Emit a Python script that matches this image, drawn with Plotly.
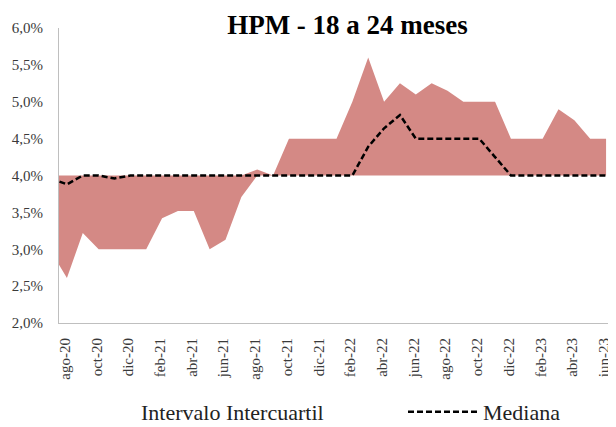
import plotly.graph_objects as go

months = ["jul-20", "ago-20", "sep-20", "oct-20", "nov-20", "dic-20",
          "ene-21", "feb-21", "mar-21", "abr-21", "may-21", "jun-21",
          "jul-21", "ago-21", "sep-21", "oct-21", "nov-21", "dic-21",
          "ene-22", "feb-22", "mar-22", "abr-22", "may-22", "jun-22",
          "jul-22", "ago-22", "sep-22", "oct-22", "nov-22", "dic-22",
          "ene-23", "feb-23", "mar-23", "abr-23", "may-23", "jun-23"]

q_low = [2.97, 2.61, 3.22, 3.00, 3.00, 3.00,
         3.00, 3.42, 3.52, 3.52, 3.00, 3.13,
         3.71, 4.00, 4.00, 4.00, 4.00, 4.00,
         4.00, 4.00, 4.00, 4.00, 4.00, 4.00,
         4.00, 4.00, 4.00, 4.00, 4.00, 4.00,
         4.00, 4.00, 4.00, 4.00, 4.00, 4.00]

q_high = [4.00, 4.00, 4.00, 4.00, 4.00, 4.00,
          4.00, 4.00, 4.00, 4.00, 4.00, 4.00,
          4.00, 4.08, 4.00, 4.50, 4.50, 4.50,
          4.50, 5.00, 5.60, 5.00, 5.25, 5.10,
          5.25, 5.15, 5.00, 5.00, 5.00, 4.50,
          4.50, 4.50, 4.90, 4.75, 4.50, 4.50]

mediana = [3.96, 3.88, 4.00, 4.00, 3.96, 4.00,
           4.00, 4.00, 4.00, 4.00, 4.00, 4.00,
           4.00, 4.00, 4.00, 4.00, 4.00, 4.00,
           4.00, 4.00, 4.39, 4.64, 4.82, 4.50,
           4.50, 4.50, 4.50, 4.50, 4.25, 4.00,
           4.00, 4.00, 4.00, 4.00, 4.00, 4.00]

tick_labels = ["ago-20", "oct-20", "dic-20", "feb-21", "abr-21", "jun-21",
               "ago-21", "oct-21", "dic-21", "feb-22", "abr-22", "jun-22",
               "ago-22", "oct-22", "dic-22", "feb-23", "abr-23", "jun-23"]

y_ticks = [2.0, 2.5, 3.0, 3.5, 4.0, 4.5, 5.0, 5.5, 6.0]
y_tick_text = ["2,0%", "2,5%", "3,0%", "3,5%", "4,0%", "4,5%", "5,0%", "5,5%", "6,0%"]

FONT = "Liberation Serif, Times New Roman, serif"
FILL = "rgb(212,137,133)"
AXIS = "#BFBFBF"
TXT = "#3a3a3a"

# The page body has an 8px margin, so the figure is sized to fit the window.
W, H = 608, 419

fig = go.Figure()
fig.add_trace(go.Scatter(x=months, y=q_low, mode="lines",
                         line=dict(width=0, color=FILL),
                         showlegend=False, hoverinfo="skip"))
fig.add_trace(go.Scatter(x=months, y=q_high, mode="lines",
                         line=dict(width=0, color=FILL),
                         fill="tonexty", fillcolor=FILL,
                         showlegend=False))
# legend entry for the interquartile range (no visible swatch, as in the original)
fig.add_trace(go.Scatter(x=[None], y=[None], mode="lines",
                         line=dict(width=0, color="rgba(0,0,0,0)"),
                         name="Intervalo Intercuartil", legend="legend"))
fig.add_trace(go.Scatter(x=months, y=mediana, mode="lines",
                         line=dict(color="black", width=2.5, dash="6px,3px"),
                         name="Mediana", legend="legend2"))

legend_common = dict(orientation="h", xanchor="left", yanchor="middle",
                     y=-89 / 295, itemwidth=70,
                     font=dict(family=FONT, size=22, color="#222222"),
                     bgcolor="rgba(0,0,0,0)")

fig.update_layout(
    width=W, height=H,
    margin=dict(l=51, r=2, t=20, b=104, autoexpand=False),
    paper_bgcolor="white", plot_bgcolor="white",
    font=dict(family=FONT, color=TXT, size=15),
    title=dict(text="HPM - 18 a 24 meses", x=339.5 / W, xanchor="center",
               xref="container", y=1 - 17 / H, yref="container", yanchor="middle",
               font=dict(family=FONT, size=27, color="black", weight="bold")),
    xaxis=dict(type="category", range=[0.5, 35.5], automargin=False,
               tickmode="array", tickvals=tick_labels, ticktext=tick_labels,
               tickangle=-90, showgrid=False, zeroline=False,
               showline=True, linecolor=AXIS, linewidth=1, ticks="",
               ticklabelstandoff=8, ticklabelshift=-2,
               tickfont=dict(family=FONT, size=15, color=TXT)),
    yaxis=dict(range=[2, 6], automargin=False,
               tickmode="array", tickvals=y_ticks, ticktext=y_tick_text,
               showgrid=False, zeroline=False, showline=True,
               linecolor=AXIS, linewidth=1, ticks="",
               ticklabelstandoff=12,
               tickfont=dict(family=FONT, size=15, color=TXT)),
    legend=dict(legend_common, x=2 / 555),
    legend2=dict(legend_common, x=344 / 555),
)

fig.write_html("out.html")
